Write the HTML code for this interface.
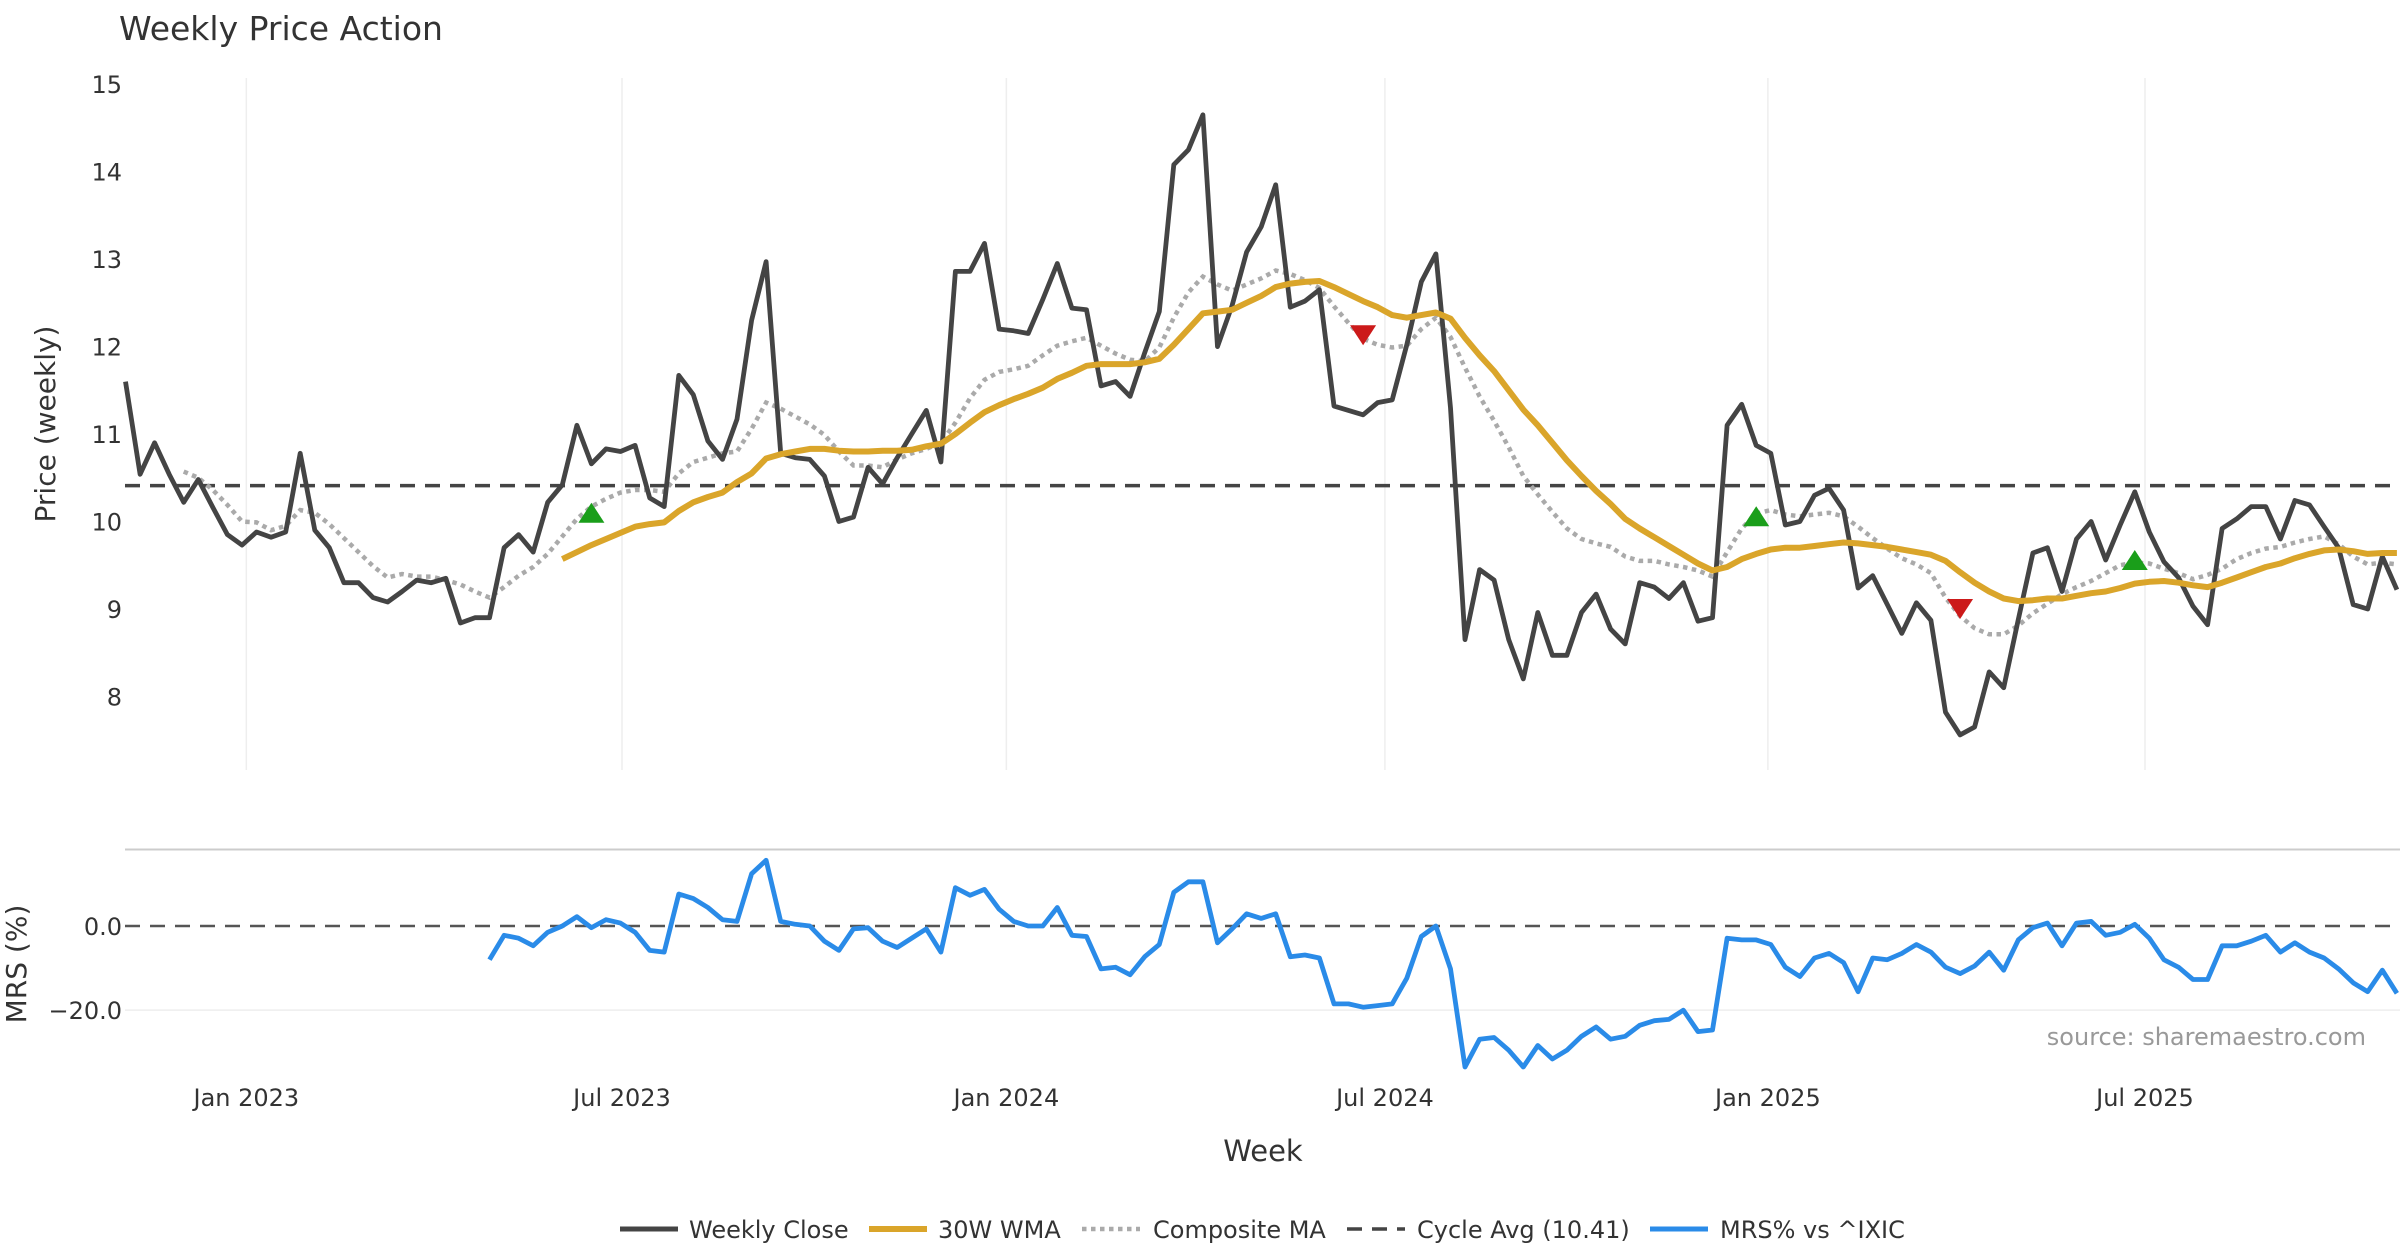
<!DOCTYPE html>
<html><head><meta charset="utf-8"><title>Weekly Price Action</title>
<style>
html,body{margin:0;padding:0;background:#fff;}
svg{display:block;font-family:"DejaVu Sans","Liberation Sans",sans-serif;}
</style></head>
<body>
<svg id="chart" width="2400" height="1260" viewBox="0 0 2400 1260" xmlns="http://www.w3.org/2000/svg">
<text x="119" y="40" font-size="33" fill="#333">Weekly Price Action</text>
<g id="grid"></g><g id="series"></g><g id="axes"></g>
<text transform="translate(55,424) rotate(-90)" text-anchor="middle" font-size="28" fill="#333">Price (weekly)</text>
<text transform="translate(26,964) rotate(-90)" text-anchor="middle" font-size="28" fill="#333">MRS (%)</text>
<text x="1263" y="1161" text-anchor="middle" font-size="29" fill="#333">Week</text>
<text x="2366" y="1045" text-anchor="end" font-size="24" fill="#999">source: sharemaestro.com</text>
<g font-size="24" fill="#333">
 <g><line x1="620" y1="1229" x2="678" y2="1229" stroke="#444" stroke-width="5"/><text x="689" y="1238">Weekly Close</text></g>
 <g><line x1="869" y1="1229" x2="927" y2="1229" stroke="#DAA52A" stroke-width="6"/><text x="938" y="1238">30W WMA</text></g>
 <g><line x1="1082" y1="1229" x2="1140" y2="1229" stroke="#aaa" stroke-width="4.5" stroke-dasharray="4.5 4.5"/><text x="1153" y="1238">Composite MA</text></g>
 <g><line x1="1347" y1="1229" x2="1405" y2="1229" stroke="#444" stroke-width="3.5" stroke-dasharray="15 10"/><text x="1417" y="1238">Cycle Avg (10.41)</text></g>
 <g><line x1="1650" y1="1229" x2="1708" y2="1229" stroke="#2a8be8" stroke-width="5"/><text x="1720" y="1238">MRS% vs ^IXIC</text></g>
</g>
</svg>
<script>
const closeVals=[11.6,10.54,10.9,10.54,10.22,10.48,10.16,9.85,9.73,9.88,9.82,9.88,10.78,9.9,9.7,9.3,9.3,9.13,9.08,9.2,9.33,9.3,9.35,8.84,8.9,8.9,9.7,9.85,9.65,10.22,10.42,11.1,10.66,10.83,10.8,10.87,10.27,10.17,11.67,11.45,10.92,10.71,11.17,12.3,12.97,10.78,10.73,10.71,10.52,10.0,10.05,10.62,10.43,10.73,11.0,11.27,10.68,12.86,12.86,13.18,12.2,12.18,12.15,12.54,12.95,12.44,12.42,11.55,11.6,11.43,11.93,12.4,14.08,14.25,14.65,12.0,12.47,13.08,13.37,13.85,12.45,12.52,12.65,11.32,11.27,11.22,11.36,11.39,12.02,12.74,13.06,11.3,8.65,9.45,9.33,8.65,8.2,8.96,8.47,8.47,8.96,9.17,8.77,8.6,9.3,9.25,9.12,9.3,8.86,8.9,11.1,11.34,10.87,10.78,9.96,10.0,10.3,10.38,10.13,9.24,9.38,9.05,8.72,9.07,8.87,7.82,7.56,7.65,8.28,8.1,8.88,9.64,9.7,9.2,9.8,10.0,9.56,9.96,10.34,9.88,9.54,9.36,9.03,8.82,9.92,10.03,10.17,10.17,9.8,10.24,10.19,9.94,9.7,9.05,9.0,9.6,9.22];
const wmaStart=30;
const wmaVals=[9.57,9.65,9.73,9.8,9.87,9.94,9.97,9.99,10.12,10.22,10.28,10.33,10.45,10.55,10.72,10.77,10.8,10.83,10.83,10.81,10.8,10.8,10.81,10.81,10.82,10.86,10.89,11.0,11.13,11.25,11.33,11.4,11.46,11.53,11.63,11.7,11.78,11.8,11.8,11.8,11.82,11.86,12.02,12.2,12.38,12.4,12.42,12.5,12.58,12.68,12.72,12.74,12.75,12.68,12.6,12.52,12.45,12.36,12.33,12.36,12.39,12.32,12.1,11.9,11.72,11.5,11.28,11.1,10.9,10.7,10.52,10.35,10.2,10.03,9.92,9.82,9.72,9.62,9.52,9.44,9.48,9.57,9.63,9.68,9.7,9.7,9.72,9.74,9.76,9.75,9.73,9.71,9.68,9.65,9.62,9.55,9.42,9.3,9.2,9.12,9.09,9.1,9.12,9.12,9.15,9.18,9.2,9.24,9.29,9.31,9.32,9.3,9.27,9.25,9.3,9.36,9.42,9.48,9.52,9.58,9.63,9.67,9.68,9.66,9.63,9.64,9.64];
const compStart=4;
const compVals=[10.57,10.5,10.36,10.19,10.0,9.99,9.9,9.95,10.13,10.1,9.97,9.81,9.65,9.49,9.36,9.4,9.37,9.37,9.33,9.28,9.2,9.13,9.25,9.38,9.48,9.63,9.83,10.03,10.17,10.26,10.33,10.36,10.36,10.34,10.55,10.68,10.73,10.78,10.8,11.06,11.36,11.29,11.2,11.11,10.99,10.8,10.64,10.64,10.62,10.71,10.78,10.83,10.9,11.13,11.41,11.62,11.71,11.74,11.78,11.9,12.01,12.06,12.1,12.01,11.92,11.85,11.83,11.99,12.33,12.62,12.8,12.71,12.64,12.71,12.78,12.87,12.83,12.76,12.67,12.46,12.27,12.09,12.02,11.99,12.01,12.2,12.33,12.11,11.76,11.43,11.15,10.85,10.52,10.31,10.11,9.92,9.8,9.75,9.71,9.6,9.55,9.55,9.51,9.48,9.44,9.37,9.65,9.92,10.09,10.13,10.08,10.06,10.08,10.1,10.06,9.94,9.81,9.69,9.58,9.51,9.41,9.13,8.92,8.78,8.71,8.71,8.81,8.95,9.06,9.17,9.25,9.32,9.41,9.5,9.53,9.52,9.46,9.41,9.34,9.39,9.46,9.57,9.64,9.69,9.71,9.76,9.8,9.83,9.74,9.6,9.51,9.53,9.51];
const mrsStart=25;
const mrsVals=[-8.0,-2.2,-2.9,-4.7,-1.5,0,2.2,-0.4,1.5,0.7,-1.5,-5.8,-6.2,7.6,6.5,4.4,1.5,1.1,12.4,15.6,1.1,0.4,0,-3.6,-5.8,-0.7,-0.4,-3.6,-5.1,-2.9,-0.7,-6.2,9.1,7.3,8.7,4.0,1.1,0,0,4.4,-2.2,-2.5,-10.2,-9.8,-11.6,-7.3,-4.4,8.0,10.5,10.5,-4.0,-0.7,2.9,1.8,2.9,-7.3,-6.9,-7.6,-18.5,-18.5,-19.3,-18.9,-18.5,-12.4,-2.5,0,-10.2,-33.5,-26.9,-26.5,-29.5,-33.5,-28.4,-31.6,-29.5,-26.2,-24.0,-26.9,-26.2,-23.6,-22.5,-22.2,-20.0,-25.1,-24.7,-2.9,-3.3,-3.3,-4.4,-9.8,-12.0,-7.6,-6.5,-8.7,-15.6,-7.6,-8.0,-6.5,-4.4,-6.2,-9.8,-11.3,-9.5,-6.2,-10.5,-3.3,-0.4,0.7,-4.7,0.7,1.1,-2.2,-1.5,0.4,-2.9,-8.0,-9.8,-12.7,-12.7,-4.7,-4.7,-3.6,-2.2,-6.2,-4.0,-6.2,-7.6,-10.2,-13.5,-15.6,-10.5,-16.0];
const cycleAvg=10.41;
const priceTicks=[8,9,10,11,12,13,14,15];
const mrsTicks=[0,-20];
const mrsTickLabels=["0.0","\u221220.0"];
const monthTickPos=[8.3,34.1,60.5,86.5,112.8,138.7];
const monthTickLabels=["Jan 2023","Jul 2023","Jan 2024","Jul 2024","Jan 2025","Jul 2025"];
const upSignalIdx=[32,112,138];
const upSignalVals=[10.1,10.06,9.56];
const downSignalIdx=[85,126];
const downSignalVals=[12.13,9.0];

const NS="http://www.w3.org/2000/svg";
const X=i=>125.5+14.56*i;
const Y=v=>84.2+(15-v)*87.46;
const YB=v=>926-v*4.209;
function mk(tag,attrs,parent){const e=document.createElementNS(NS,tag);for(const k in attrs)e.setAttribute(k,attrs[k]);parent.appendChild(e);return e;}
const grid=document.getElementById('grid'),series=document.getElementById('series'),axes=document.getElementById('axes');

monthTickPos.forEach((p,k)=>{
  const g=mk('line',{x1:X(p),x2:X(p),y1:78,y2:770,stroke:'#eee','stroke-width':1.5},grid);
  
  
  const t=mk('text',{x:X(p),y:1106,'text-anchor':'middle','font-size':24,fill:'#333'},axes);
  t.textContent=monthTickLabels[k];
  
  
});
priceTicks.forEach(v=>{
  const t=mk('text',{x:122,y:Y(v)+9,'text-anchor':'end','font-size':24,fill:'#333'},axes);
  t.textContent=v;
  
  
});
const sep=mk('line',{x1:125,x2:2400,y1:849.5,y2:849.5,stroke:'#ccc','stroke-width':2},grid);


mrsTicks.forEach((v,k)=>{
  if(v!==0){const gl=mk('line',{x1:125,x2:2400,y1:YB(v),y2:YB(v),stroke:'#eee','stroke-width':1.5},grid);
  
  }
  const t=mk('text',{x:122,y:YB(v)+9,'text-anchor':'end','font-size':24,fill:'#333'},axes);
  t.textContent=mrsTickLabels[k];
  
  
});
const zl=mk('line',{x1:125,x2:2400,y1:YB(0),y2:YB(0),stroke:'#555','stroke-width':2.5,'stroke-dasharray':'15 10'},series);


const cl=mk('line',{x1:125,x2:2400,y1:Y(cycleAvg),y2:Y(cycleAvg),stroke:'#444','stroke-width':3.5,'stroke-dasharray':'15 10'},series);



function pts(vals,start,fy){return vals.map((v,i)=>X(start+i).toFixed(1)+','+fy(v).toFixed(1)).join(' ');}
const comp=mk('polyline',{points:pts(compVals,compStart,Y),fill:'none',stroke:'#aaa','stroke-width':4.5,'stroke-dasharray':'4.5 4.5'},series);


const cls=mk('polyline',{points:pts(closeVals,0,Y),fill:'none',stroke:'#444','stroke-width':4.8,'stroke-linejoin':'round'},series);


const wma=mk('polyline',{points:pts(wmaVals,wmaStart,Y),fill:'none',stroke:'#DAA52A','stroke-width':6,'stroke-linejoin':'round'},series);


const mrs=mk('polyline',{points:pts(mrsVals,mrsStart,YB),fill:'none',stroke:'#2a8be8','stroke-width':4.8,'stroke-linejoin':'round'},series);



upSignalIdx.forEach((idx,k)=>{
  const x=X(idx),y=Y(upSignalVals[k]);
  const p=mk('polygon',{points:`${x-13},${y+10} ${x+13},${y+10} ${x},${y-10}`,fill:'#1a9e1a'},series);
  
  
});
downSignalIdx.forEach((idx,k)=>{
  const x=X(idx),y=Y(downSignalVals[k]);
  const p=mk('polygon',{points:`${x-13},${y-10} ${x+13},${y-10} ${x},${y+10}`,fill:'#cc1a1a'},series);
  
  
});
</script>
</body></html>
